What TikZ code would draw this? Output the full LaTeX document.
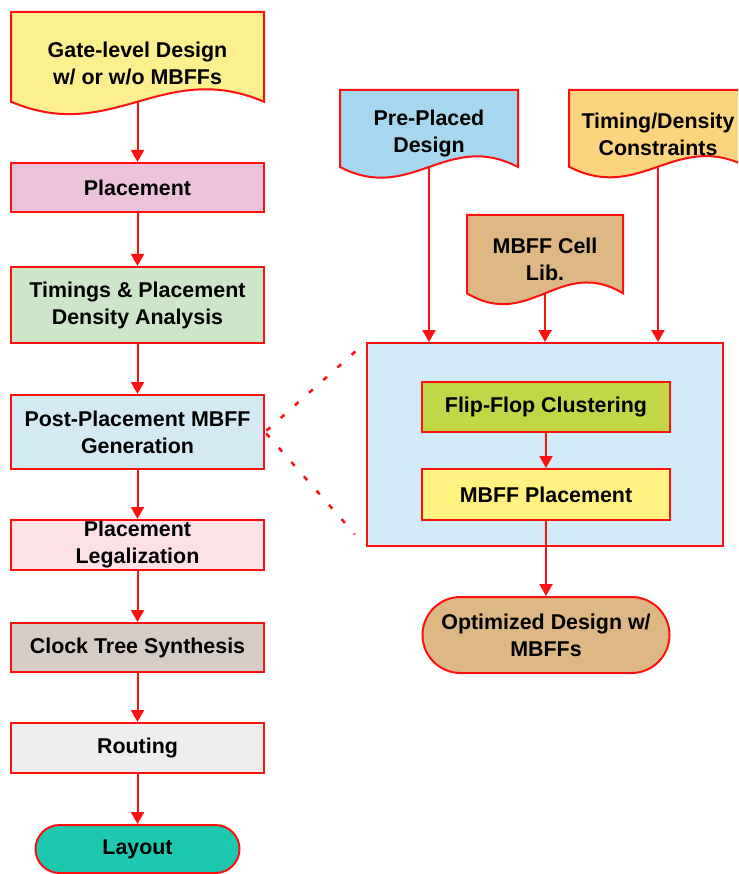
\documentclass[tikz,border=0pt]{standalone}
\usepackage{fontspec}
\setmainfont{Liberation Sans}
\usetikzlibrary{arrows.meta,calc}

% fills
\definecolor{edge}{HTML}{FF1010}
\definecolor{cGate}{HTML}{FBEF8E}
\definecolor{cPlace}{HTML}{EBC3DB}
\definecolor{cTiming}{HTML}{CDE5C8}
\definecolor{cPost}{HTML}{D3EAF5}
\definecolor{cLegal}{HTML}{FDE1E6}
\definecolor{cCts}{HTML}{D6CCC6}
\definecolor{cRoute}{HTML}{EEEEEE}
\definecolor{cLayout}{HTML}{1CC9AF}
\definecolor{cPre}{HTML}{A6D7EE}
\definecolor{cCons}{HTML}{FDD47E}
\definecolor{cLib}{HTML}{DDB784}
\definecolor{cBig}{HTML}{D1EAF5}
\definecolor{cFfc}{HTML}{C1D747}
\definecolor{cMbp}{HTML}{FFF280}

% document symbol with a wavy lower edge:
% #1 name, #2 left, #3 top, #4 right, #5 base of the wave, #6 fill, #7 text, #8 text centre
\newcommand{\docshape}[8]{%
  \filldraw[docline, fill=#6] (#2,#3) -- (#4,#3) -- (#4,#5)
    .. controls ({#2+0.6*(#4-#2)},{#5-0.48*(#5-#3)}) and ({#2+0.4*(#4-#2)},{#5+0.48*(#5-#3)}) .. (#2,#5) -- cycle;
  \node (#1) at ({(#2+#4)/2},#8) {#7};
  \coordinate (#1-out) at ({(#2+#4)/2},#5);
}

\begin{document}
\begin{tikzpicture}[x=1pt,y=-1pt,
  every node/.style={font=\bfseries\fontsize{21.4}{27}\selectfont, text=black, align=center},
  docline/.style={draw=edge, line width=2pt},
  stepbox/.style={draw=edge, line width=2pt, rectangle, inner sep=0pt, minimum width=253pt, minimum height=50pt},
  innerbox/.style={stepbox, minimum width=248pt},
  flow/.style={draw=edge, line width=2pt, -{Triangle[width=13pt,length=12pt]}},
  zoomline/.style={draw=edge, line width=2.5pt, dash pattern=on 5pt off 14pt}]

\useasboundingbox (0,0) rectangle (738,874);
\clip (0,0) rectangle (738,874);

% ---------- left column: design flow ----------
\docshape{gate}{11}{12}{264}{101.7}{cGate}{Gate-level Design\\w/ or w/o MBFFs}{63}

\node[stepbox, fill=cPlace, minimum height=49pt] (place) at (137.5,187.5) {Placement};
\node[stepbox, fill=cTiming, minimum height=76pt] (timing) at (137.5,305) {Timings \& Placement\\Density Analysis};
\node[stepbox, fill=cPost, minimum height=74pt] (post) at (137.5,432) {Post-Placement MBFF\\Generation};
\node[stepbox, fill=cLegal] (legal) at (137.5,545) {};
\node at (legal) {Placement\\Legalization};
\node[stepbox, fill=cCts, minimum height=49pt] (cts) at (137.5,647.5) {Clock Tree Synthesis};
\node[stepbox, fill=cRoute] (route) at (137.5,748) {Routing};
\node[draw=edge, line width=2pt, fill=cLayout, rounded corners=24pt, minimum width=204pt, minimum height=48pt, inner sep=0pt] (layout) at (137.5,849) {Layout};

\draw[flow] (gate-out) -- (place.north);
\draw[flow] (place) -- (timing);
\draw[flow] (timing) -- (post);
\draw[flow] (post) -- (legal);
\draw[flow] (legal) -- (cts);
\draw[flow] (cts) -- (route);
\draw[flow] (route) -- (layout);

% ---------- right column: MBFF generation in detail ----------
\docshape{pre}{340}{90}{518}{167}{cPre}{Pre-Placed\\Design}{134}
\docshape{cons}{569}{90}{747}{166.7}{cCons}{Timing/Density\\Constraints}{134}
\docshape{lib}{467}{215}{623}{293.3}{cLib}{MBFF Cell\\Lib.}{259}

\node[draw=edge, line width=2pt, fill=cBig, minimum width=356pt, minimum height=203pt, inner sep=0pt] (big) at (545,444.5) {};
\node[innerbox, fill=cFfc] (ffc) at (546,407) {Flip-Flop Clustering};
\node[innerbox, fill=cMbp, minimum height=51pt] (mbp) at (546,494.5) {MBFF Placement};
\node[draw=edge, line width=2pt, fill=cLib, rounded corners=38pt, minimum width=247pt, minimum height=76pt, inner sep=0pt] (opt) at (546,635) {Optimized Design w/\\MBFFs};

\draw[flow] (pre-out) -- (pre-out |- big.north);
\draw[flow] (lib-out) -- (lib-out |- big.north);
\draw[flow] (cons-out) -- (cons-out |- big.north);
\draw[flow] (ffc) -- (mbp);
\draw[flow] (mbp) -- (opt);

% zoom-in guides
\draw[zoomline, shorten <=2pt, shorten >=3pt] (post.east) -- (big.north west);
\draw[zoomline, shorten <=2pt, shorten >=17pt] (post.east) -- (big.south west);

\end{tikzpicture}
\end{document}
